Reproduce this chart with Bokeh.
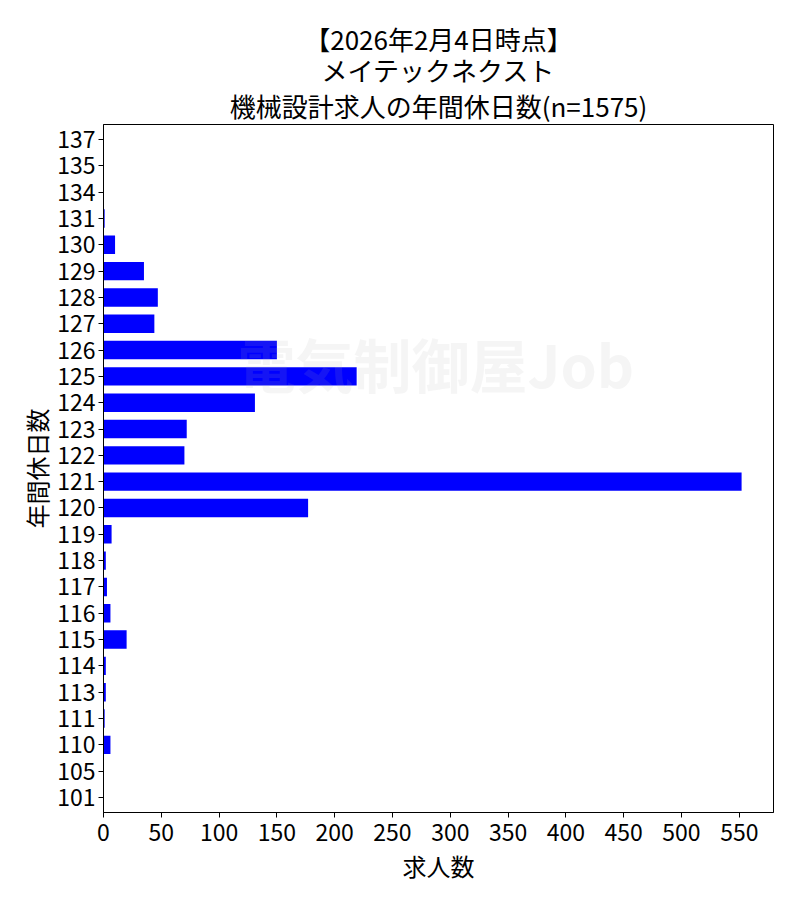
from bokeh.plotting import figure
from bokeh.models import Range1d, FixedTicker, Title, Label
from bokeh.embed import file_html
from bokeh.resources import INLINE

# ---- data ----
holidays = ["101", "105", "110", "111", "113", "114", "115", "116", "117", "118",
            "119", "120", "121", "122", "123", "124", "125", "126", "127", "128",
            "129", "130", "131", "134", "135", "137"]
counts = [0, 0, 6, 1, 2, 2, 20, 6, 3, 2,
          7, 177, 552, 70, 72, 131, 219, 150, 44, 47,
          35, 10, 1, 0, 0, 0]
x_ticks = [0, 50, 100, 150, 200, 250, 300, 350, 400, 450, 500, 550]
title_lines = ["【2026年2月4日時点】", "メイテックネクスト", "機械設計求人の年間休日数(n=1575)"]
x_label = "求人数"
y_label = "年間休日数"

FONT = "Noto Sans CJK JP"
idx = list(range(len(holidays)))

p = figure(output_backend="svg", toolbar_location=None,
           x_range=Range1d(0, max(counts) * 1.05),
           y_range=Range1d(-0.57, len(holidays) - 1 + 0.57),
           frame_width=670, frame_height=688,
           min_border_left=103, min_border_right=20, min_border_top=124, min_border_bottom=70)
p.title = None

standoffs = [2, -9, -7]
for line, so in zip(reversed(title_lines), standoffs):
    t = Title(text=line, align="center", text_font=FONT, text_font_size="26px",
              text_font_style="normal", text_color="black",
              standoff=so, offset=0)
    p.add_layout(t, "above")

p.hbar(y=idx, left=0, right=counts, height=0.7, color="#0000ff", line_color=None)

# watermark
wm = Label(x=134, y=408, x_units="screen", y_units="screen", text="電気制御屋Job",
           text_font=FONT, text_font_size="58px", text_font_style="bold",
           text_color="#b0b0b0", text_alpha=0.12)
p.add_layout(wm)

p.xaxis.ticker = FixedTicker(ticks=x_ticks)
p.yaxis.ticker = FixedTicker(ticks=idx)
p.yaxis.major_label_overrides = {i: h for i, h in zip(idx, holidays)}

for ax in (p.xaxis[0], p.yaxis[0]):
    ax.major_label_text_font = FONT
    ax.major_label_text_font_size = "23px"
    ax.major_label_text_color = "black"
    ax.axis_label_text_font = FONT
    ax.axis_label_text_font_size = "24px"
    ax.axis_label_text_font_style = "normal"
    ax.axis_label_text_color = "black"
    ax.axis_line_color = "black"
    ax.major_tick_line_color = "black"
    ax.major_tick_out = 5
    ax.major_tick_in = 0
    ax.minor_tick_line_color = None
    ax.major_label_standoff = 3
    ax.axis_label_standoff = 4

p.yaxis.axis_label_standoff = 0
p.xaxis.major_label_standoff = 6
p.xaxis.axis_label_standoff = 4
p.xaxis.axis_label = x_label
p.yaxis.axis_label = y_label

p.xgrid.grid_line_color = None
p.ygrid.grid_line_color = None
p.outline_line_color = "black"
p.outline_line_alpha = 1.0
p.outline_line_width = 1

open("out.html", "w").write(file_html(p, INLINE))
